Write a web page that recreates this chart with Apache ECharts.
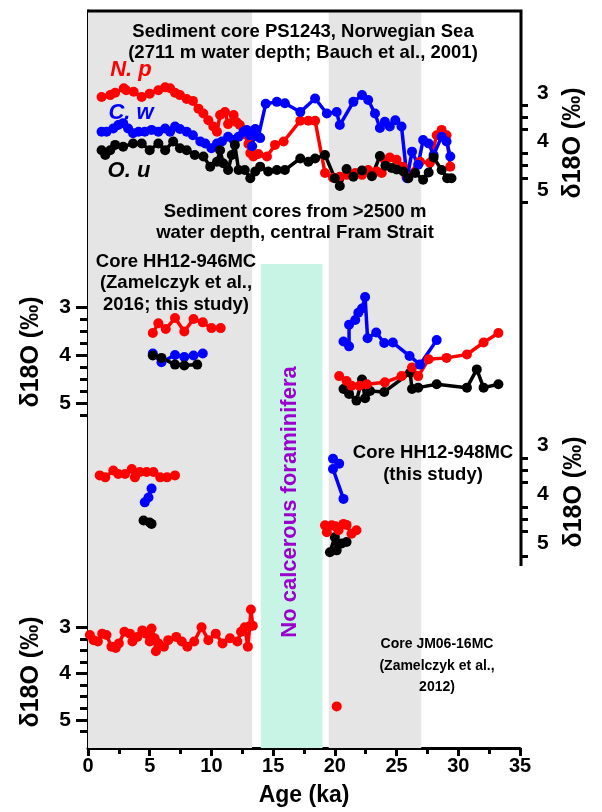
<!DOCTYPE html>
<html>
<head>
<meta charset="utf-8">
<script src="https://cdn.jsdelivr.net/npm/echarts@6/dist/echarts.min.js"></script>
<style>
  html, body { margin: 0; padding: 0; background: #fff; }
  #chart { width: 602px; height: 812px; }
</style>
</head>
<body>
<div id="chart"></div>
<script>
// age (ka) / d18O (permil) pairs

// PS1243, Norwegian Sea
const ps1243Np = [[1.1,3.08],[1.8,3.04],[2.2,2.99],[2.9,2.9],[3.1,2.94],[3.7,2.97],[4.35,3.08],[5.0,3.01],[5.7,2.94],[6.25,2.88],[6.65,2.9],[7.05,2.99],[7.45,3.04],[8.0,3.12],[8.5,3.16],[8.95,3.32],[9.35,3.42],[9.75,3.56],[10.15,3.69],[10.45,3.8],[10.7,3.45],[11.1,3.39],[11.35,3.64],[11.8,3.45],[12.05,3.6],[12.3,3.66],[12.7,3.85],[13.0,4.05],[13.15,4.24],[13.4,4.31],[13.8,4.26],[14.5,4.31],[15.15,4.07],[15.85,4.0],[17.2,3.57],[17.85,3.57],[18.4,3.57],[19.2,4.65],[19.85,4.75],[20.4,4.73],[20.95,4.69],[21.65,4.65],[22.2,4.69],[22.7,4.59],[23.4,4.62],[23.8,4.65],[24.05,4.38],[24.45,4.33],[25.0,4.38],[25.5,4.52],[25.8,4.73],[26.9,4.42],[27.7,4.44],[28.25,3.87],[28.65,3.76],[29.05,3.87],[29.35,4.52]];
const ps1243Cw = [[1.1,3.8],[1.5,3.8],[2.05,3.73],[2.45,3.66],[2.85,3.62],[3.25,3.73],[3.65,3.83],[4.1,3.8],[4.6,3.8],[5.15,3.76],[5.7,3.8],[6.25,3.73],[6.65,3.8],[7.05,3.69],[7.45,3.74],[8.0,3.8],[8.5,3.87],[9.1,4.0],[9.5,4.04],[10.0,4.14],[10.45,4.04],[10.85,4.0],[11.35,3.9],[11.8,3.97],[12.2,3.9],[12.6,3.8],[12.85,3.76],[13.1,3.87],[13.3,4.1],[13.55,3.74],[13.8,3.9],[13.95,3.93],[14.4,3.22],[15.3,3.18],[15.95,3.21],[17.2,3.39],[18.4,3.11],[19.35,3.42],[20.15,3.39],[20.4,3.66],[21.5,3.18],[22.2,3.04],[22.7,3.14],[23.25,3.42],[23.65,3.72],[24.05,3.59],[24.45,3.69],[24.9,3.56],[25.4,3.69],[25.85,4.76],[26.25,4.21],[26.75,4.48],[27.15,3.97],[27.6,4.04],[28.0,4.28],[28.65,3.9],[29.05,4.0],[29.35,4.31]];
const ps1243Ou = [[1.1,4.18],[1.4,4.28],[1.8,4.18],[2.2,4.07],[2.85,4.11],[3.65,4.04],[4.35,4.04],[5.0,4.18],[5.7,4.04],[6.25,4.18],[6.9,4.0],[7.45,4.14],[8.0,4.18],[8.65,4.28],[9.35,4.31],[9.9,4.52],[10.45,4.42],[10.7,4.18],[10.95,4.45],[11.35,4.59],[11.65,4.28],[11.9,4.07],[12.2,4.59],[12.7,4.59],[13.15,4.76],[13.55,4.62],[13.95,4.52],[14.6,4.62],[15.3,4.59],[15.95,4.59],[17.2,4.35],[17.85,4.42],[18.4,4.35],[19.2,4.28],[20.0,4.76],[20.4,4.92],[20.95,4.57],[21.5,4.73],[22.2,4.6],[23.0,4.72],[23.65,4.3],[24.1,4.5],[24.6,4.55],[25.0,4.58],[25.55,4.62],[25.95,4.76],[26.5,4.65],[27.15,4.79],[27.6,4.64],[28.0,4.33],[28.65,4.59],[29.1,4.76],[29.45,4.76]];

// HH12-946MC, Fram Strait
const hh946NpA = [[5.25,3.54],[5.7,3.34],[6.3,3.46],[7.05,3.23],[7.8,3.51],[8.55,3.25],[9.3,3.32],[10.0,3.44],[10.75,3.44]];
const hh946CwA = [[5.25,3.97],[5.95,4.15],[7.05,4.0],[7.8,4.04],[8.55,4.01],[9.3,3.97]];
const hh946OuA = [[5.25,4.01],[5.95,4.06],[7.05,4.2],[7.8,4.22],[8.85,4.2]];
const hh946NpB = [[20.35,4.44],[20.95,4.54],[21.35,4.64],[22.0,4.64],[22.6,4.61],[24.05,4.57],[25.4,4.44],[26.25,4.26],[26.75,4.44],[27.6,4.09],[29.05,4.06],[30.7,3.99],[32.05,3.74],[33.25,3.54]];
const hh946CwB = [[20.7,3.72],[21.15,3.82],[21.15,3.37],[21.65,3.27],[21.9,3.12],[22.2,3.03],[22.45,2.79],[22.65,3.65],[23.35,3.53],[24.0,3.75],[24.7,3.74],[26.05,4.02],[26.9,4.2],[28.25,3.69]];
const hh946OuB = [[20.7,4.71],[21.15,4.81],[21.75,4.95],[22.2,4.51],[22.45,4.9],[22.85,4.75],[24.0,4.77],[26.1,4.37],[26.25,4.71],[26.75,4.68],[28.25,4.61],[30.7,4.68],[31.5,4.3],[32.05,4.68],[33.25,4.61]];

// HH12-948MC
const hh948NpA = [[0.95,3.61],[1.4,3.65],[2.05,3.51],[2.45,3.58],[3.0,3.58],[3.55,3.48],[3.8,3.65],[4.2,3.54],[4.75,3.54],[5.3,3.54],[5.85,3.65],[6.4,3.65],[7.05,3.61]];
const hh948CwA = [[4.6,4.16],[4.9,4.06],[5.15,3.88]];
const hh948OuA = [[4.5,4.53],[5.0,4.57],[5.15,4.6]];
const hh948NpB = [[19.2,4.63],[19.35,4.77],[19.75,4.63],[20.05,4.65],[20.3,4.73],[20.7,4.6],[20.95,4.62],[21.35,4.8],[21.75,4.73]];
const hh948CwB = [[19.85,3.27],[20.35,3.37],[19.85,3.48],[20.7,4.09]];
const hh948OuB = [[19.6,5.18],[20.0,4.87],[20.15,5.14],[20.55,5.0],[20.95,4.97]];

// JM06-16MC
const jm06NpA = [[0.15,3.17],[0.45,3.28],[0.8,3.31],[1.15,3.14],[1.5,3.17],[1.9,3.42],[2.25,3.45],[2.5,3.35],[2.95,3.1],[3.4,3.14],[3.6,3.31],[4.0,3.21],[4.4,3.07],[4.7,3.14],[5.0,3.31],[5.15,3.03],[5.4,3.24],[5.5,3.52],[5.7,3.35],[6.15,3.42],[6.5,3.28],[7.15,3.21],[7.6,3.31],[8.05,3.42],[8.6,3.31],[9.2,3.0],[9.75,3.28],[10.35,3.14],[10.9,3.35],[11.5,3.24],[12.1,3.31],[12.4,3.1],[12.7,3.0],[12.95,3.42],[13.1,2.98],[13.2,2.62],[13.35,2.97]];
const jm06NpB = [[20.15,4.71]];

const yMajor = [3, 4, 5];
const yMinor = [3.25, 3.5, 3.75, 4.25, 4.5, 4.75, 5.25];
const holoceneBand = [0, 13.3];
const lgmBand = [19.5, 27];
const noForamBand = [14, 19];

const FONT = '"Liberation Sans", Arial, sans-serif';
const RED = '#ff0000', BLUE = '#0000ff', BLACK = '#000000';

const chart = echarts.init(document.getElementById('chart'), null, { renderer: 'canvas' });

// pixel rows of the four stacked panels (value 2.5 at top, 5.5 at bottom)
const panels = [
  { top: 69, height: 145, side: 'right' },
  { top: 283, height: 144, side: 'left' },
  { top: 421, height: 147, side: 'right' },
  { top: 604, height: 139, side: 'left' },
];
const PLOT_LEFT = 88, PLOT_RIGHT = 82, PLOT_TOP = 11, PLOT_BOTTOM = 754;

const grids = panels.map(p => ({ left: PLOT_LEFT, right: PLOT_RIGHT, top: p.top, height: p.height }));
grids.push({ left: PLOT_LEFT, right: PLOT_RIGHT, top: PLOT_TOP, height: PLOT_BOTTOM - PLOT_TOP });
const baseGrid = grids.length - 1;

const xAxes = panels.map((p, i) => ({ gridIndex: i, type: 'value', min: 0, max: 35, show: false }));
xAxes.push({
  gridIndex: baseGrid, type: 'value', min: 0, max: 35, interval: 5,
  axisLine: { lineStyle: { color: '#000', width: 3 } },
  axisTick: { length: 8, lineStyle: { width: 3, color: '#000' } },
  minorTick: { show: true, splitNumber: 2, length: 6, lineStyle: { width: 3, color: '#000' } },
  splitLine: { show: false },
  axisLabel: { color: '#000', fontSize: 20, fontWeight: 'bold', fontFamily: FONT, margin: 8 },
  name: 'Age (ka)', nameLocation: 'middle', nameGap: 36,
  nameTextStyle: { color: '#000', fontSize: 23, fontWeight: 'bold', fontFamily: FONT },
});

const yAxes = [];
panels.forEach((p, i) => {
  const common = {
    gridIndex: i, type: 'value', min: 2.5, max: 5.5, inverse: true, position: p.side,
    axisLine: { show: false }, splitLine: { show: false },
  };
  yAxes.push(Object.assign({}, common, {
    axisTick: { show: true, customValues: yMajor, length: 12, lineStyle: { width: 3, color: '#000' } },
    axisLabel: { customValues: yMajor, color: '#000', fontSize: 21, fontWeight: 'bold', fontFamily: FONT, margin: 17 },
  }));
  yAxes.push(Object.assign({}, common, {
    axisTick: { show: true, customValues: yMinor, length: 8, lineStyle: { width: 3, color: '#000' } },
    axisLabel: { show: false },
  }));
});
yAxes.push({
  gridIndex: baseGrid, type: 'value', min: PLOT_TOP, max: PLOT_BOTTOM, inverse: true, position: 'left',
  axisLine: { show: true, lineStyle: { color: '#000', width: 3 } },
  axisTick: { show: false }, axisLabel: { show: false }, splitLine: { show: false },
});

function line(data, color, panel) {
  return {
    type: 'line', data, xAxisIndex: panel, yAxisIndex: panel * 2,
    symbol: 'circle', symbolSize: 10, clip: false, z: 5,
    lineStyle: { color, width: 3.5 }, itemStyle: { color },
    animation: false, silent: true,
  };
}

const series = [
  {
    type: 'line', data: [], xAxisIndex: baseGrid, yAxisIndex: panels.length * 2, z: 0, silent: true,
    markArea: {
      silent: true,
      data: [
        [{ xAxis: holoceneBand[0], itemStyle: { color: '#e5e5e5' } }, { xAxis: holoceneBand[1] }],
        [{ xAxis: lgmBand[0], itemStyle: { color: '#e5e5e5' } }, { xAxis: lgmBand[1] }],
        [{ xAxis: noForamBand[0], yAxis: 266, itemStyle: { color: '#c8f4e6' } }, { xAxis: noForamBand[1], yAxis: PLOT_BOTTOM }],
      ],
    },
  },
  line(ps1243Np, RED, 0), line(ps1243Cw, BLUE, 0), line(ps1243Ou, BLACK, 0),
  line(hh946NpA, RED, 1), line(hh946CwA, BLUE, 1), line(hh946OuA, BLACK, 1),
  line(hh946OuB, BLACK, 1), line(hh946NpB, RED, 1), line(hh946CwB, BLUE, 1),
  line(hh948OuA, BLACK, 2), line(hh948CwA, BLUE, 2), line(hh948NpA, RED, 2),
  line(hh948OuB, BLACK, 2), line(hh948NpB, RED, 2), line(hh948CwB, BLUE, 2),
  line(jm06NpA, RED, 3), line(jm06NpB, RED, 3),
];

function txt(text, x, y, opts) {
  return {
    type: 'text', x, y, rotation: (opts && opts.rotation) || 0, z: 10, silent: true,
    style: {
      text, align: 'center', verticalAlign: 'middle',
      font: (opts && opts.font) || ('bold 18.5px ' + FONT),
      fill: (opts && opts.fill) || '#000',
      lineHeight: (opts && opts.lineHeight) || 21.5,
    },
  };
}
const AXIS_TITLE = 'bold 25px ' + FONT;
const LEG = 'italic bold 22px ' + FONT;

const graphic = [
  { type: 'polyline', z: 9, silent: true, shape: { points: [[PLOT_LEFT - 1, 11], [521, 11], [521, 566]] },
    style: { stroke: '#000', lineWidth: 3, fill: null } },
  txt('Sediment core PS1243, Norwegian Sea\n(2711 m water depth; Bauch et al., 2001)', 303, 42.5),
  txt('N. p', 131, 70, { font: LEG, fill: RED }),
  txt('C. w', 131, 113, { font: LEG, fill: BLUE }),
  txt('O. u', 129, 171, { font: LEG, fill: BLACK }),
  txt('Sediment cores from >2500 m\nwater depth, central Fram Strait', 295, 222.5),
  txt('Core HH12-946MC\n(Zamelczyk et al.,\n2016; this study)', 176, 283),
  txt('No calcerous foraminifera', 290, 502, { rotation: Math.PI / 2, font: 'bold 22px ' + FONT, fill: '#9a00cc' }),
  txt('Core HH12-948MC\n(this study)', 433, 464),
  txt('Core JM06-16MC\n(Zamelczyk et al.,\n2012)', 437, 666, { font: 'bold 14px ' + FONT, lineHeight: 21.5 }),
  txt('δ18O (‰)', 573, 143, { rotation: Math.PI / 2, font: AXIS_TITLE }),
  txt('δ18O (‰)', 31, 352, { rotation: Math.PI / 2, font: AXIS_TITLE }),
  txt('δ18O (‰)', 574, 492, { rotation: Math.PI / 2, font: AXIS_TITLE }),
  txt('δ18O (‰)', 31, 672, { rotation: Math.PI / 2, font: AXIS_TITLE }),
];

chart.setOption({
  animation: false,
  backgroundColor: '#fff',
  grid: grids,
  xAxis: xAxes,
  yAxis: yAxes,
  series,
  graphic,
});
</script>
</body>
</html>
